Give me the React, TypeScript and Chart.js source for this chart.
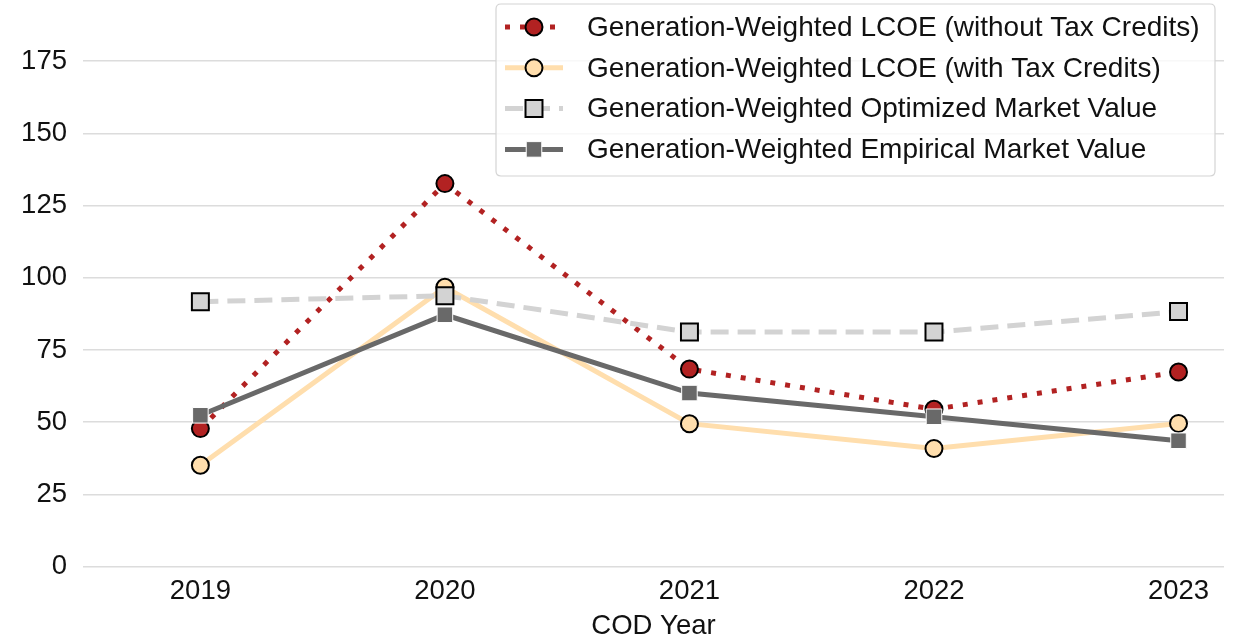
import React, { useEffect, useRef } from "react";
import { Chart, registerables } from "chart.js";

Chart.register(...registerables);

// ---- data ----
const years = [2019, 2020, 2021, 2022, 2023];
const lcoeWithoutCredits = [47.8, 132.6, 68.4, 54.5, 67.4];
const lcoeWithCredits = [35.1, 96.7, 49.5, 40.9, 49.6];
const optimizedMarketValue = [91.7, 93.8, 81.2, 81.2, 88.3];
const empiricalMarketValue = [52.4, 87.2, 60.1, 51.9, 43.6];
const yTickValues = [0, 25, 50, 75, 100, 125, 150, 175];
const seriesLabels = [
  "Generation-Weighted LCOE (without Tax Credits)",
  "Generation-Weighted LCOE (with Tax Credits)",
  "Generation-Weighted Optimized Market Value",
  "Generation-Weighted Empirical Market Value",
];
const xAxisTitle = "COD Year";

const FONT = '"Liberation Sans", Arial, Helvetica, sans-serif';

const toPoints = (vals: number[]) => years.map((yr, i) => ({ x: yr, y: vals[i] }));

function drawMarker(ctx: CanvasRenderingContext2D, ds: any, x: number, y: number) {
  const r = ds.pointRadius;
  ctx.save();
  ctx.fillStyle = ds.pointBackgroundColor;
  ctx.strokeStyle = ds.pointBorderColor;
  ctx.lineWidth = ds.pointBorderWidth;
  ctx.setLineDash([]);
  ctx.beginPath();
  if (ds.pointStyle === "rect") {
    const s = Math.SQRT1_2 * r;
    ctx.rect(x - s, y - s, 2 * s, 2 * s);
  } else {
    ctx.arc(x, y, r, 0, Math.PI * 2);
  }
  ctx.fill();
  if (ds.pointBorderWidth > 0) ctx.stroke();
  ctx.restore();
}

const legendPlugin = {
  id: "customLegend",
  afterDraw(chart: any) {
    const ctx: CanvasRenderingContext2D = chart.ctx;
    ctx.save();
    const x0 = 496, y0 = 4, x1 = 1215, y1 = 176, rad = 5;
    ctx.beginPath();
    ctx.moveTo(x0 + rad, y0);
    ctx.lineTo(x1 - rad, y0);
    ctx.quadraticCurveTo(x1, y0, x1, y0 + rad);
    ctx.lineTo(x1, y1 - rad);
    ctx.quadraticCurveTo(x1, y1, x1 - rad, y1);
    ctx.lineTo(x0 + rad, y1);
    ctx.quadraticCurveTo(x0, y1, x0, y1 - rad);
    ctx.lineTo(x0, y0 + rad);
    ctx.quadraticCurveTo(x0, y0, x0 + rad, y0);
    ctx.closePath();
    ctx.fillStyle = "rgba(255,255,255,0.8)";
    ctx.fill();
    ctx.strokeStyle = "#d4d4d4";
    ctx.lineWidth = 1.2;
    ctx.stroke();

    const datasets = chart.data.datasets;
    datasets.forEach((ds: any, i: number) => {
      const y = 27 + i * 40.8;
      ctx.save();
      ctx.strokeStyle = ds.borderColor;
      ctx.lineWidth = ds.borderWidth;
      ctx.lineCap = "butt";
      ctx.setLineDash(ds.borderDash || []);
      ctx.beginPath();
      ctx.moveTo(505, y);
      ctx.lineTo(563, y);
      ctx.stroke();
      ctx.restore();
      drawMarker(ctx, ds, 534, y);
      ctx.fillStyle = "#111111";
      ctx.font = `28px ${FONT}`;
      ctx.textAlign = "left";
      ctx.textBaseline = "middle";
      ctx.fillText(ds.label, 587, y + 1);
    });
    ctx.restore();
  },
};

export default function App() {
  const canvasRef = useRef<HTMLCanvasElement | null>(null);

  useEffect(() => {
    if (!canvasRef.current) return;
    const tickFont = { size: 27.5, family: FONT };
    const chart = new Chart(canvasRef.current, {
      type: "line",
      data: {
        datasets: [
          {
            label: seriesLabels[0],
            data: toPoints(lcoeWithoutCredits),
            borderColor: "#B22222",
            backgroundColor: "#B22222",
            borderWidth: 5,
            borderDash: [5, 10],
            borderCapStyle: "butt",
            pointStyle: "circle",
            pointRadius: 8.5,
            pointBackgroundColor: "#B22222",
            pointBorderColor: "#000000",
            pointBorderWidth: 2,
            order: 4,
          },
          {
            label: seriesLabels[1],
            data: toPoints(lcoeWithCredits),
            borderColor: "#FFDEAD",
            backgroundColor: "#FFDEAD",
            borderWidth: 5,
            pointStyle: "circle",
            pointRadius: 8.5,
            pointBackgroundColor: "#FFDEAD",
            pointBorderColor: "#000000",
            pointBorderWidth: 2,
            order: 3,
          },
          {
            label: seriesLabels[2],
            data: toPoints(optimizedMarketValue),
            borderColor: "#D3D3D3",
            backgroundColor: "#D3D3D3",
            borderWidth: 5,
            borderDash: [18, 9],
            borderCapStyle: "butt",
            pointStyle: "rect",
            pointRadius: 12,
            pointBackgroundColor: "#D3D3D3",
            pointBorderColor: "#000000",
            pointBorderWidth: 2,
            order: 2,
          },
          {
            label: seriesLabels[3],
            data: toPoints(empiricalMarketValue),
            borderColor: "#696969",
            backgroundColor: "#696969",
            borderWidth: 5,
            pointStyle: "rect",
            pointRadius: 11,
            pointBackgroundColor: "#696969",
            pointBorderColor: "#ffffff",
            pointBorderWidth: 1,
            order: 1,
          },
        ] as any,
      },
      options: {
        animation: false,
        responsive: false,
        events: [],
        layout: { padding: { top: 5, right: 12, left: 0, bottom: 0 } },
        plugins: {
          legend: { display: false },
          tooltip: { enabled: false },
          title: { display: false },
        },
        scales: {
          x: {
            type: "linear",
            min: 2018.52,
            max: 2023.186,
            afterBuildTicks: (s: any) => {
              s.ticks = years.map((v) => ({ value: v }));
            },
            afterFit: (s: any) => {
              s.height = 71.3;
              s.paddingLeft = 0;
              s.paddingRight = 0;
            },
            grid: { display: false },
            border: { display: false },
            ticks: {
              padding: 0,
              color: "#111111",
              font: tickFont,
              autoSkip: false,
              maxRotation: 0,
              callback: (v: any) => String(v),
            },
            title: {
              display: true,
              text: xAxisTitle,
              color: "#111111",
              font: { size: 27.5, family: FONT, lineHeight: 1 },
              padding: { top: 0, bottom: -2 },
            },
          },
          y: {
            type: "linear",
            min: 0,
            max: 191.3,
            afterBuildTicks: (s: any) => {
              s.ticks = yTickValues.map((v) => ({ value: v }));
            },
            afterFit: (s: any) => {
              s.width = 83;
              s.paddingTop = 0;
              s.paddingBottom = 0;
            },
            grid: { color: "#dcdcdc", lineWidth: 1.5, drawTicks: false },
            border: { display: false },
            ticks: {
              padding: 16,
              color: "#111111",
              font: tickFont,
              callback: (v: any) => String(v),
            },
          },
        },
      } as any,
      plugins: [legendPlugin as any],
    });
    return () => chart.destroy();
  }, []);

  return (
    <div style={{ position: "absolute", left: 0, top: 0, width: 1238, height: 638, background: "#ffffff" }}>
      <canvas ref={canvasRef} width={1238} height={638} style={{ display: "block" }} />
    </div>
  );
}
